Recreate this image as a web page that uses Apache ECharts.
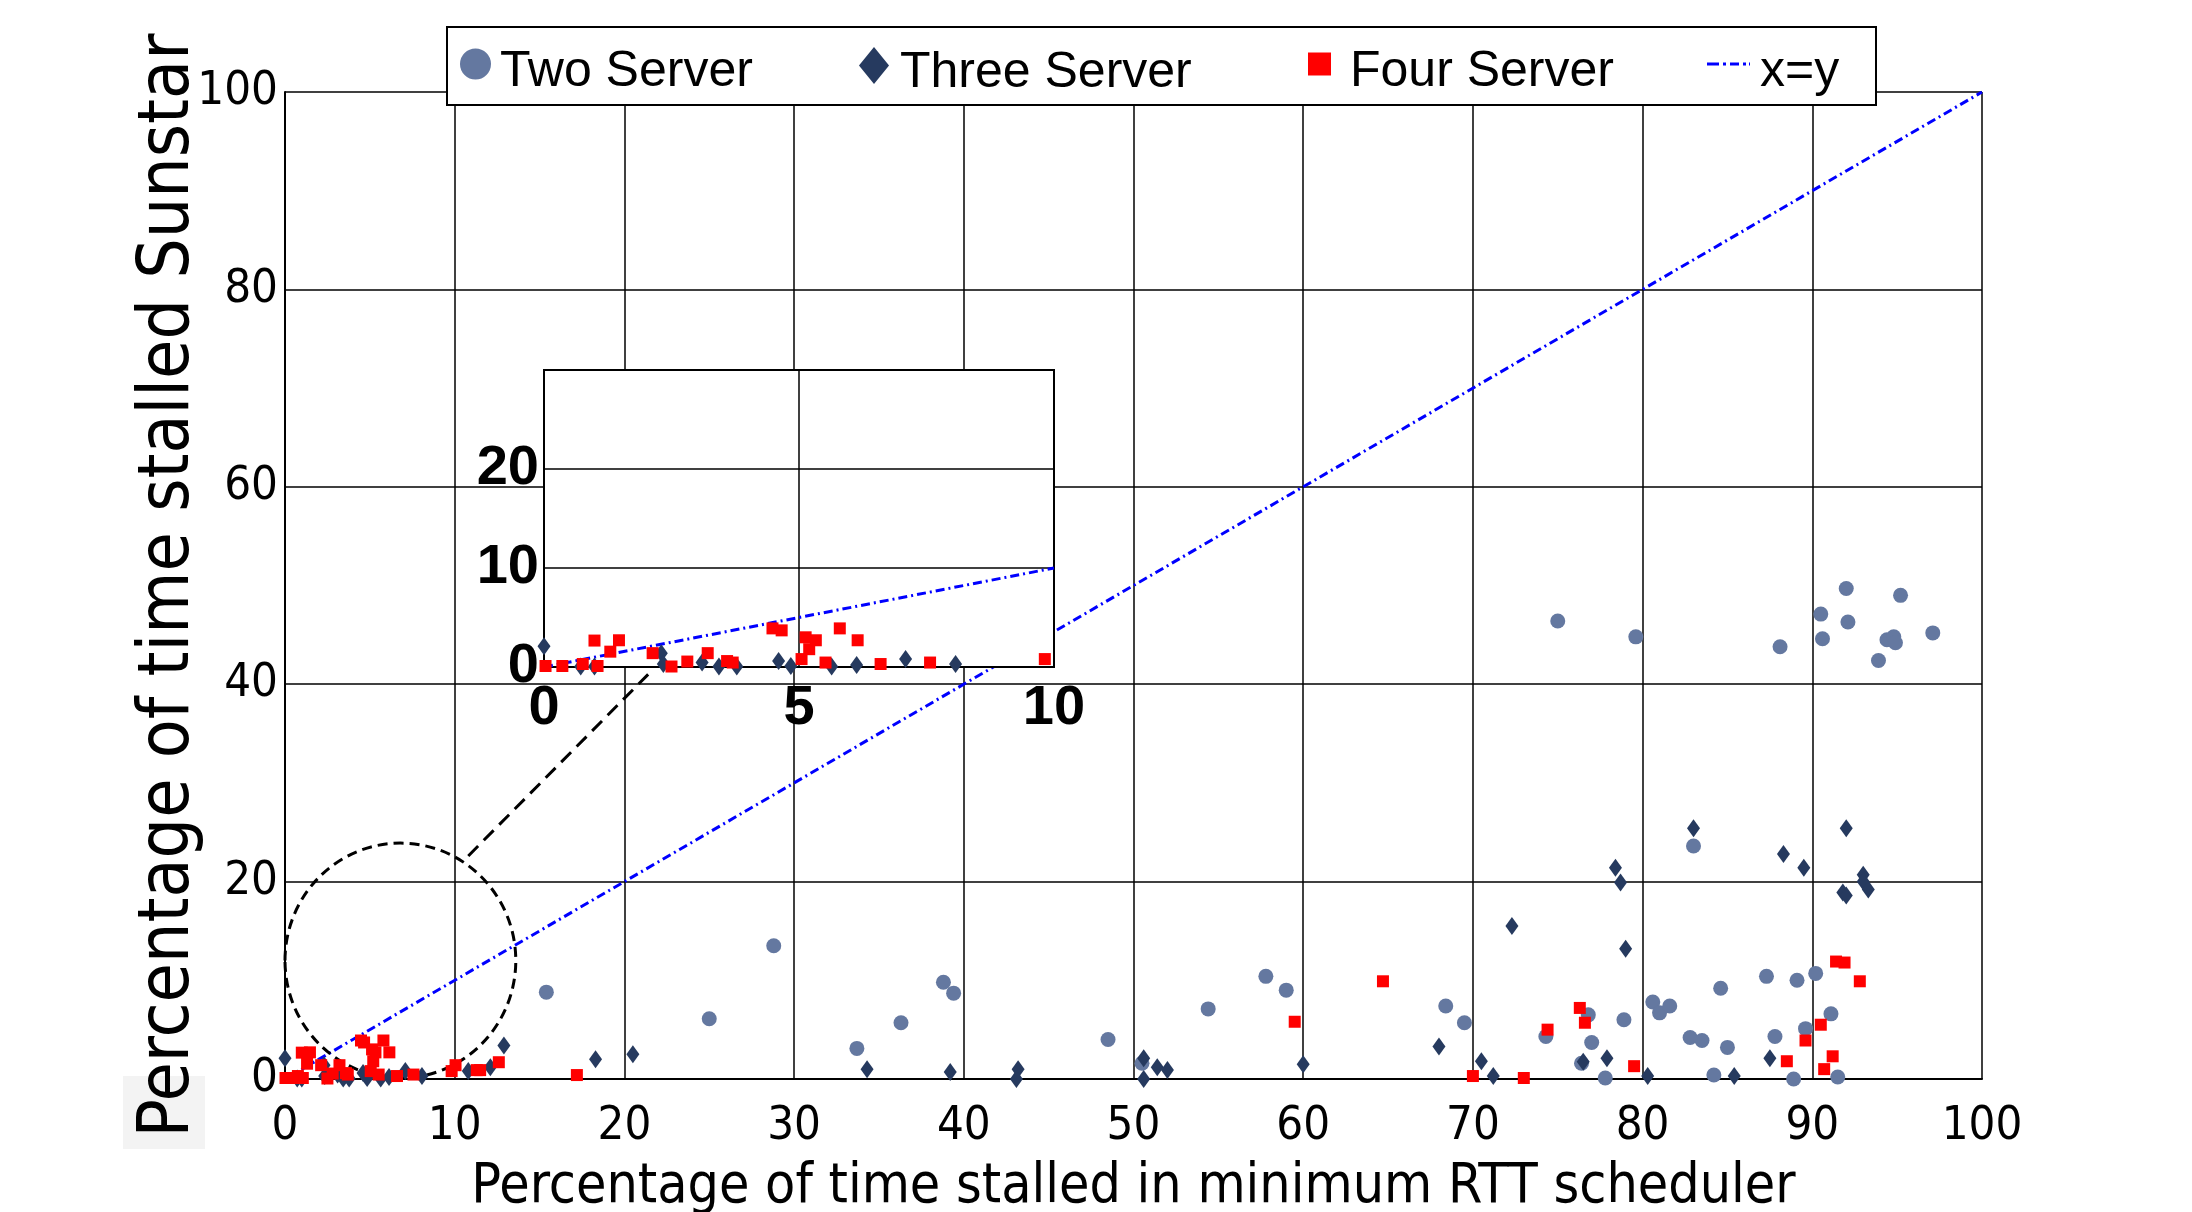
<!DOCTYPE html>
<html>
<head>
<meta charset="utf-8">
<title>Sunstar stall time</title>
<script src="https://cdn.jsdelivr.net/npm/echarts@6/dist/echarts.min.js"></script>
<style>
  html, body { margin: 0; padding: 0; background: #fff; }
  #main { width: 2192px; height: 1212px; }
</style>
</head>
<body>
<div id="main"></div>
<script>
// [x, y] = [% stalled with minimum RTT, % stalled with Sunstar]
const twoServer = [
  [15.4, 8.8], [25.0, 6.1], [28.8, 13.5], [33.7, 3.1], [36.3, 5.7], [38.8, 9.8], [39.4, 8.7],
  [48.5, 4.0], [50.5, 1.6], [54.4, 7.1], [57.8, 10.4], [59.0, 9.0],
  [68.4, 7.4], [69.5, 5.7], [74.3, 4.3], [76.8, 6.5], [77.0, 3.7], [76.4, 1.6], [77.8, 0.1],
  [78.9, 6.0], [83.0, 23.6], [80.6, 7.8], [81.0, 6.7], [81.6, 7.4], [82.8, 4.2], [83.5, 3.9],
  [84.2, 0.4], [84.6, 9.2], [85.0, 3.2], [87.3, 10.4], [87.8, 4.3], [88.9, 0.0], [89.1, 10.0],
  [90.2, 10.7], [89.6, 5.1], [91.1, 6.6], [91.5, 0.2],
  [75.0, 46.4], [79.6, 44.8], [88.1, 43.8], [90.5, 47.1], [90.6, 44.6], [92.0, 49.7], [92.1, 46.3],
  [95.2, 49.0], [93.9, 42.4], [94.4, 44.5], [94.8, 44.8], [94.9, 44.2], [97.1, 45.2]
];
const threeServer = [
  [0.0, 2.1], [0.72, 0.05], [0.99, 0.05], [2.30, 1.4], [2.34, 0.3], [3.10, 0.45], [3.43, 0.05],
  [3.78, 0.05], [4.60, 0.6], [4.84, 0.1], [5.64, 0.05], [6.13, 0.2], [7.09, 0.8], [8.07, 0.3],
  [10.8, 0.8], [12.1, 1.2], [12.9, 3.4], [18.3, 2.0], [20.5, 2.5], [34.3, 1.0], [39.2, 0.7],
  [43.2, 1.0], [43.1, 0.0], [50.6, 2.1], [50.6, 0.0], [51.4, 1.2], [52.0, 0.9], [60.0, 1.5],
  [68.0, 3.3], [70.5, 1.8], [71.2, 0.3], [72.3, 15.5], [76.5, 1.75], [77.9, 2.1], [78.4, 21.4],
  [78.7, 19.9], [79.0, 13.2], [80.3, 0.3], [83.0, 25.4], [85.4, 0.3], [87.5, 2.1], [88.3, 22.8],
  [89.5, 21.4], [92.0, 25.4], [93.0, 20.7], [93.0, 20.0], [93.3, 19.2], [91.8, 18.9], [92.0, 18.6]
];
const fourServer = [
  [0.03, 0.1], [0.36, 0.1], [0.76, 0.3], [1.05, 0.1], [0.99, 2.67], [1.30, 1.55], [1.47, 2.7],
  [2.13, 1.4], [2.50, 0.05], [2.81, 0.55], [3.21, 1.4], [3.59, 0.6], [3.70, 0.45], [4.48, 3.9],
  [4.66, 3.7], [5.13, 3.0], [5.33, 2.7], [5.20, 1.8], [5.05, 0.8], [5.80, 3.9], [6.15, 2.7],
  [5.52, 0.45], [6.60, 0.3], [7.57, 0.45], [9.82, 0.8],
  [10.05, 1.4], [11.3, 0.9], [11.5, 0.9], [12.6, 1.7], [17.2, 0.4], [59.5, 5.8], [64.7, 9.9],
  [70.0, 0.3], [73.0, 0.1], [74.4, 5.0], [76.3, 7.2], [76.6, 5.7], [79.5, 1.3], [88.5, 1.8],
  [89.6, 3.9], [90.5, 5.5], [91.2, 2.3], [90.7, 1.0], [91.4, 11.9], [91.9, 11.8], [92.8, 9.9]
];
const diagMain = [[0, 0], [100, 100]];
const diagInset = [[0, 0], [10, 10]];
// zoom marker: [cx, cy, rx, ry] in data units, and the pointer line to the inset
const zoomCircle = [[6.8, 12.0, 6.8, 11.9]];
const zoomPointer = [[10.8, 22.6], [21.4, 41.0]];

const narrow = "'Liberation Sans Narrow', 'DejaVu Sans Condensed', sans-serif";
const regular = "'Liberation Sans', Arial, sans-serif";
const colTwo = '#6478a0', colThree = '#263a5f', colFour = '#ff0000', colDiag = '#0000ff';
const dashDot = [9, 4, 2, 4];
const dashDotIcon = 'path://M0,0h12v3h-12z M16,0h3v3h-3z M23,0h9v3h-9z M36,0h3v3h-3z M42,0h1v3h-1z';

const chart = echarts.init(document.getElementById('main'));

function legendAt(name, left, iw, ih, padLeft, icon, color) {
  const l = {
    data: [{ name: name, icon: icon }],
    left: left, top: 47, padding: 0, z: 20,
    itemWidth: iw, itemHeight: ih, symbolKeepAspect: false,
    formatter: function (n) { return '{h| }{t|' + n + '}'; },
    textStyle: {
      fontSize: 50, fontFamily: regular, color: '#000',
      rich: {
        h: { fontSize: 2, height: 66, width: 1, verticalAlign: 'middle' },
        t: { fontSize: 50, fontFamily: regular, color: '#000', lineHeight: 50,
             verticalAlign: 'bottom', padding: [0, 0, 0, padLeft] }
      }
    },
    selectedMode: false
  };
  if (color) l.itemStyle = { color: color };
  return l;
}

const gridLine = { show: true, lineStyle: { color: '#000', width: 1.5 } };
const mainLabel = { fontSize: 47, fontFamily: narrow, color: '#000' };
const insetLabel = { fontSize: 56, fontFamily: regular, fontWeight: 'bold', color: '#000' };

const option = {
  animation: false,
  backgroundColor: '#fff',
  graphic: [
    { type: 'rect', z: -1, shape: { x: 123, y: 1076, width: 82, height: 73 }, style: { fill: '#f3f3f3' } },
    { type: 'rect', z: 15, shape: { x: 447, y: 27, width: 1429, height: 78 }, style: { fill: '#fff', stroke: '#000', lineWidth: 2 } }
  ],
  legend: [
    legendAt('Two Server', 460, 31, 31, 3, 'circle'),
    legendAt('Three Server', 859, 30, 37, 5, 'diamond'),
    legendAt('Four Server', 1308, 23, 23, 13, 'rect'),
    legendAt('x=y', 1707, 43, 3, 4, dashDotIcon, colDiag)
  ],
  grid: [
    { left: 285, right: 210, top: 92, bottom: 133, outerBoundsMode: 'none', containLabel: false },
    { left: 544, top: 370, width: 510, height: 297, show: true, z: 10, outerBoundsMode: 'none', containLabel: false,
      backgroundColor: '#fff', borderColor: '#000', borderWidth: 2 }
  ],
  xAxis: [
    { type: 'value', gridIndex: 0, min: 0, max: 100, interval: 10,
      name: 'Percentage of time stalled in minimum RTT scheduler', nameLocation: 'middle', nameGap: 81,
      nameMoveOverlap: false,
      nameTextStyle: { fontSize: 55, fontFamily: narrow, color: '#000' },
      axisLine: { lineStyle: { color: '#000', width: 2 } }, axisTick: { show: false },
      axisLabel: Object.assign({ margin: 24 }, mainLabel), splitLine: gridLine },
    { type: 'value', gridIndex: 1, min: 0, max: 10, interval: 5, z: 11,
      axisLine: { lineStyle: { color: '#000', width: 2 } }, axisTick: { show: false },
      axisLabel: Object.assign({ margin: 14 }, insetLabel), splitLine: gridLine }
  ],
  yAxis: [
    { type: 'value', gridIndex: 0, min: 0, max: 100, interval: 20,
      name: 'Percentage of time stalled Sunstar', nameLocation: 'middle', nameGap: 80,
      nameMoveOverlap: false,
      nameTextStyle: { fontSize: 71, fontFamily: narrow, color: '#000' },
      axisLine: { show: true, lineStyle: { color: '#000', width: 2 } }, axisTick: { show: false },
      axisLabel: Object.assign({ margin: 7 }, mainLabel), splitLine: gridLine },
    { type: 'value', gridIndex: 1, min: 0, max: 30, interval: 10, z: 11,
      axisLine: { show: true, lineStyle: { color: '#000', width: 2 } }, axisTick: { show: false },
      axisLabel: Object.assign({ margin: 5, showMaxLabel: false }, insetLabel), splitLine: gridLine }
  ],
  series: [
    { name: 'x=y', type: 'line', data: diagMain, symbol: 'none', showSymbol: false, z: 2,
      lineStyle: { color: colDiag, width: 3, type: dashDot }, itemStyle: { color: colDiag } },
    { name: 'zoom', type: 'custom', data: zoomCircle, silent: true, z: 3,
      renderItem: function (params, api) {
        const c = api.coord([api.value(0), api.value(1)]);
        const e = api.coord([api.value(0) + api.value(2), api.value(1) + api.value(3)]);
        return { type: 'ellipse',
          shape: { cx: c[0], cy: c[1], rx: Math.abs(e[0] - c[0]), ry: Math.abs(e[1] - c[1]) },
          style: { fill: 'none', stroke: '#000', lineWidth: 3, lineDash: [10, 6] } };
      } },
    { name: 'pointer', type: 'line', data: zoomPointer, symbol: 'none', silent: true, z: 3,
      lineStyle: { color: '#000', width: 3, type: [14, 8] } },
    { name: 'Two Server', type: 'scatter', data: twoServer, symbol: 'circle', symbolSize: 15, z: 4,
      itemStyle: { color: colTwo, opacity: 1 } },
    { name: 'Three Server', type: 'scatter', data: threeServer, symbol: 'diamond', symbolSize: [13, 18], z: 4,
      itemStyle: { color: colThree, opacity: 1 } },
    { name: 'Four Server', type: 'scatter', data: fourServer, symbol: 'rect', symbolSize: 12, z: 5,
      itemStyle: { color: colFour, opacity: 1 } },

    // inset: same points, zoomed to 0-10
    { name: 'x=y', type: 'line', xAxisIndex: 1, yAxisIndex: 1, data: diagInset, symbol: 'none', showSymbol: false, z: 12,
      lineStyle: { color: colDiag, width: 3, type: dashDot } },
    { name: 'Three Server', type: 'scatter', xAxisIndex: 1, yAxisIndex: 1, data: threeServer, clip: true,
      symbol: 'diamond', symbolSize: [13, 18], z: 13, itemStyle: { color: colThree, opacity: 1 } },
    { name: 'Four Server', type: 'scatter', xAxisIndex: 1, yAxisIndex: 1, data: fourServer, clip: true,
      symbol: 'rect', symbolSize: 12, z: 14, itemStyle: { color: colFour, opacity: 1 } }
  ]
};

chart.setOption(option);
</script>
</body>
</html>
